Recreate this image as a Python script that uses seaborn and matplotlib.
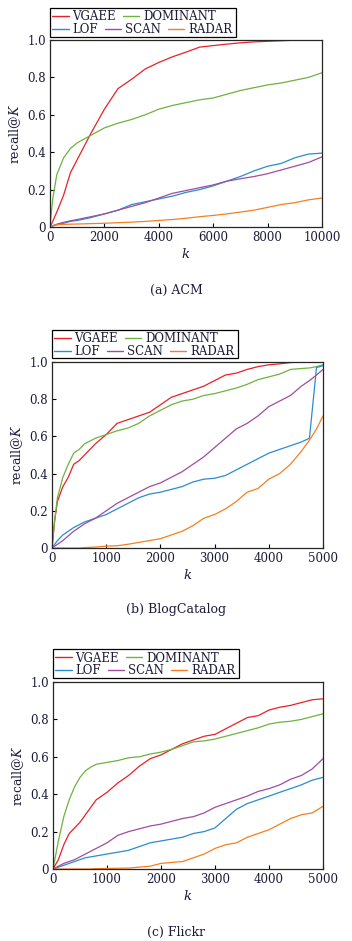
import numpy as np
import pandas as pd
import seaborn as sns
import matplotlib.pyplot as plt
from matplotlib.lines import Line2D
from matplotlib.patches import Rectangle

sns.set_style("ticks")
plt.rcParams['font.family'] = ['DejaVu Serif', 'Liberation Serif']
plt.rcParams['mathtext.fontset'] = 'dejavuserif'

methods = ["VGAEE", "DOMINANT", "LOF", "SCAN", "RADAR"]
colors = ["#e8202a", "#6db33f", "#2a8ccf", "#a04ca0", "#f57f20"]

# (a) ACM
acm_k = [0, 100, 250, 500, 750, 1000, 1500, 2000, 2500, 3000, 3500, 4000,
         4500, 5000, 5500, 6000, 6500, 7000, 7500, 8000, 8500, 9000, 9500, 10000]
acm_vgaee = [0, 0.03, 0.08, 0.17, 0.29, 0.36, 0.5, 0.63, 0.74, 0.79, 0.845, 0.88,
             0.91, 0.935, 0.962, 0.97, 0.978, 0.985, 0.99, 0.993, 0.996, 0.999, 1.0, 1.0]
acm_dominant = [0, 0.15, 0.28, 0.37, 0.42, 0.45, 0.49, 0.53, 0.555, 0.575, 0.6, 0.63,
                0.65, 0.665, 0.68, 0.69, 0.71, 0.73, 0.745, 0.76, 0.77, 0.785, 0.8, 0.825]
acm_lof = [0, 0.005, 0.012, 0.02, 0.03, 0.035, 0.05, 0.07, 0.09, 0.12, 0.135, 0.15,
           0.165, 0.185, 0.2, 0.22, 0.245, 0.27, 0.3, 0.325, 0.34, 0.37, 0.39, 0.395]
acm_scan = [0, 0.007, 0.015, 0.025, 0.033, 0.04, 0.055, 0.07, 0.09, 0.11, 0.13, 0.155,
            0.18, 0.195, 0.21, 0.225, 0.245, 0.258, 0.27, 0.285, 0.305, 0.325, 0.345, 0.375]
acm_radar = [0, 0.007, 0.012, 0.014, 0.015, 0.016, 0.018, 0.02, 0.023, 0.026, 0.03, 0.035,
             0.04, 0.047, 0.055, 0.062, 0.07, 0.08, 0.09, 0.105, 0.12, 0.13, 0.145, 0.155]

# (b) BlogCatalog
blog_k = [0, 50, 100, 200, 300, 400, 500, 600, 800, 1000, 1200, 1400, 1600, 1800,
          2000, 2200, 2400, 2600, 2800, 3000, 3200, 3400, 3600, 3800, 4000, 4200,
          4400, 4600, 4750, 4880, 5000]
blog_vgaee = [0, 0.15, 0.25, 0.33, 0.38, 0.45, 0.47, 0.5, 0.56, 0.61, 0.67, 0.69, 0.71, 0.73,
              0.77, 0.81, 0.83, 0.85, 0.87, 0.9, 0.93, 0.94, 0.96, 0.975, 0.985, 0.99,
              0.997, 1.0, 1.0, 1.0, 1.0]
blog_dominant = [0, 0.15, 0.27, 0.38, 0.45, 0.51, 0.53, 0.56, 0.59, 0.61, 0.63, 0.645, 0.67, 0.71,
                 0.74, 0.77, 0.79, 0.8, 0.82, 0.83, 0.845, 0.86, 0.88, 0.905, 0.92, 0.935,
                 0.96, 0.965, 0.968, 0.975, 0.985]
blog_lof = [0, 0.02, 0.04, 0.07, 0.09, 0.11, 0.125, 0.14, 0.16, 0.18, 0.21, 0.24, 0.27, 0.29,
            0.3, 0.315, 0.33, 0.355, 0.37, 0.375, 0.39, 0.42, 0.45, 0.48, 0.51, 0.53,
            0.55, 0.57, 0.59, 0.97, 0.98]
blog_scan = [0, 0.01, 0.02, 0.04, 0.065, 0.09, 0.11, 0.13, 0.16, 0.2, 0.24, 0.27, 0.3, 0.33,
             0.35, 0.38, 0.41, 0.45, 0.49, 0.54, 0.59, 0.64, 0.67, 0.71, 0.76, 0.79,
             0.82, 0.87, 0.9, 0.93, 0.96]
blog_radar = [0, 0, 0, 0, 0, 0, 0, 0.002, 0.005, 0.01, 0.012, 0.02, 0.03, 0.04,
              0.05, 0.07, 0.09, 0.12, 0.16, 0.18, 0.21, 0.25, 0.3, 0.32, 0.37, 0.4,
              0.45, 0.52, 0.58, 0.64, 0.71]

# (c) Flickr
flickr_k = [0, 100, 200, 300, 400, 500, 600, 700, 800, 1000, 1200, 1400, 1600, 1800,
            2000, 2200, 2400, 2600, 2800, 3000, 3200, 3400, 3600, 3800, 4000, 4200,
            4400, 4600, 4800, 5000]
flickr_vgaee = [0, 0.05, 0.13, 0.19, 0.22, 0.25, 0.29, 0.33, 0.37, 0.41, 0.46, 0.5, 0.55, 0.59,
                0.61, 0.64, 0.67, 0.69, 0.71, 0.72, 0.75, 0.78, 0.81, 0.82, 0.85, 0.865,
                0.875, 0.89, 0.905, 0.91]
flickr_dominant = [0, 0.15, 0.28, 0.37, 0.44, 0.49, 0.525, 0.545, 0.56, 0.57, 0.58, 0.595, 0.6,
                   0.615, 0.625, 0.64, 0.66, 0.68, 0.685, 0.695, 0.71, 0.725, 0.74, 0.755,
                   0.775, 0.785, 0.79, 0.8, 0.815, 0.83]
flickr_lof = [0, 0.01, 0.02, 0.03, 0.04, 0.05, 0.06, 0.065, 0.07, 0.08, 0.09, 0.1, 0.12, 0.14,
              0.15, 0.16, 0.17, 0.19, 0.2, 0.22, 0.27, 0.32, 0.35, 0.37, 0.39, 0.41,
              0.43, 0.45, 0.475, 0.49]
flickr_scan = [0, 0.015, 0.03, 0.04, 0.05, 0.065, 0.08, 0.095, 0.11, 0.14, 0.18, 0.2, 0.215, 0.23,
               0.24, 0.255, 0.27, 0.28, 0.3, 0.33, 0.35, 0.37, 0.39, 0.415, 0.43, 0.45,
               0.48, 0.5, 0.535, 0.59]
flickr_radar = [0, 0, 0, 0, 0, 0, 0, 0, 0.002, 0.003, 0.004, 0.005, 0.01, 0.015,
                0.03, 0.035, 0.04, 0.06, 0.08, 0.11, 0.13, 0.14, 0.17, 0.19, 0.21, 0.24,
                0.27, 0.29, 0.3, 0.335]

panels = [
    ("(a) ACM", acm_k, [acm_vgaee, acm_dominant, acm_lof, acm_scan, acm_radar], 10000),
    ("(b) BlogCatalog", blog_k, [blog_vgaee, blog_dominant, blog_lof, blog_scan, blog_radar], 5000),
    ("(c) Flickr", flickr_k, [flickr_vgaee, flickr_dominant, flickr_lof, flickr_scan, flickr_radar], 5000),
]

# axes boxes in pixels: left, right, top, bottom ; legend box ; caption y
W, H = 352, 941
ax_px = [(50, 322, 40, 227), (52, 323, 362, 548), (53, 323, 682, 869)]
leg_px = [(50, 8, 186, 29), (52, 330, 186, 28), (53, 649, 186, 29)]
cap_y = [290, 610, 932]
txt_col = "#1c1c3a"

fig = plt.figure(figsize=(W / 100, H / 100), dpi=100)

for i, (cap, ks, series, kmax) in enumerate(panels):
    l, r, t, b = ax_px[i]
    ax = fig.add_axes([l / W, 1 - b / H, (r - l) / W, (b - t) / H])
    df = pd.DataFrame({
        "k": np.tile(ks, len(methods)),
        "recall": np.concatenate(series),
        "method": np.repeat(methods, len(ks)),
    })
    sns.lineplot(data=df, x="k", y="recall", hue="method", hue_order=methods,
                 palette=colors, linewidth=0.9, legend=False, ax=ax)
    ax.set_xlim(0, kmax)
    ax.set_ylim(0, 1.0)
    ax.set_yticks([0, 0.2, 0.4, 0.6, 0.8, 1.0])
    ax.set_yticklabels(["0", "0.2", "0.4", "0.6", "0.8", "1.0"])
    ax.tick_params(direction="in", length=3, width=0.8, labelsize=8.5, colors="black",
                   labelcolor=txt_col, pad=3)
    for sp in ax.spines.values():
        sp.set_linewidth(0.9)
    ax.set_xlabel("$k$", fontsize=9.5, color=txt_col, labelpad=2)
    ax.set_ylabel("recall@$K$", fontsize=9, color=txt_col, labelpad=3)

    # legend: two rows in a single box
    lx, ly, lw, lh = leg_px[i]
    hs = [Line2D([], [], color=c, lw=1.0) for c in colors]
    kw = dict(frameon=False, fontsize=8.5, handlelength=1.4, handletextpad=0.3,
              columnspacing=0.6, borderpad=0, borderaxespad=0, labelcolor=txt_col,
              loc="upper left", bbox_transform=fig.transFigure)
    fig.legend(hs[:2], methods[:2], ncol=2,
               bbox_to_anchor=((lx + 2) / W, 1 - (ly + 2.5) / H), **kw)
    fig.legend(hs[2:], methods[2:], ncol=3,
               bbox_to_anchor=((lx + 2) / W, 1 - (ly + 15) / H), **kw)
    fig.patches.append(Rectangle((lx / W, 1 - (ly + lh) / H), lw / W, lh / H,
                                 transform=fig.transFigure, fill=False,
                                 edgecolor="black", linewidth=0.9))

    fig.text(0.5, 1 - cap_y[i] / H, cap, ha="center", va="center",
             fontsize=9, color=txt_col)

plt.savefig("out.png", dpi=100)
